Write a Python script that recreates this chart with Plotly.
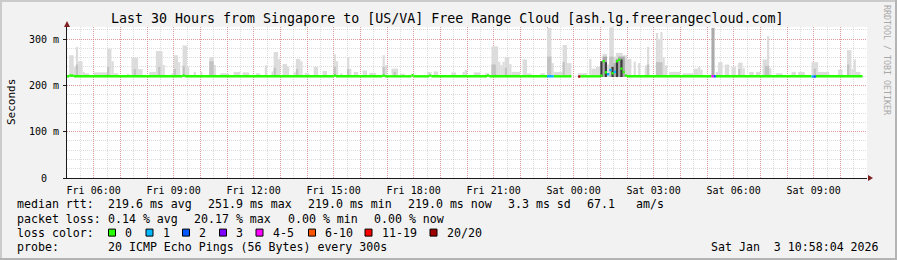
import numpy as np
import pandas as pd
import plotly.graph_objects as go

# ---------------- data ----------------
t_start = "2026-01-02 05:00"
step_minutes = 5
hours_span = 30

# median RTT (ms) as runs of 5-minute steps: length, value, loss count (None = no data)
med_len = [1, 2, 49, 1, 67, 1, 21, 1, 12, 1, 7, 1, 25, 1, 26, 3, 8, 3, 1, 9,
           1, 1, 1, 1, 1, 1, 1, 1, 1, 1, 1, 1,
           38, 1, 1, 43, 1, 1, 21]
med_val = [219.5, 221, 219.5, 221, 219.5, 221, 219.5, 221, 219.5, 221.5, 219.5, 221, 219.5, 221, 219.5,
           219.5, 219.5, None, 219, 219.5,
           221, 252, 228, 224, 233, 226, 229, 252, 255, 236, 229, 221,
           219.5, 219.5, 219.5, 219.5, 219, 219, 219.5]
med_loss = [0, 0, 0, 0, 0, 0, 0, 0, 0, 0, 0, 0, 0, 0, 0, 1, 0, None, 20, 0,
            0, 0, 0, 1, 1, 0, 1, 0, 0, 0, 0, 0,
            0, 4, 2, 0, 1, 2, 0]

# smoke (ping spread) layers: start step, number of steps, top value (ms)
smoke_light_start = [1, 3, 4, 5, 7, 8, 12, 18, 20, 21, 27, 29, 32, 37, 40, 43, 47, 48, 50, 52, 54, 57, 60, 64, 66, 69, 75, 79, 85,
                     89, 92, 93, 95, 97, 99, 102, 103, 105, 107, 111, 115, 120, 121, 123, 126, 127, 129, 133, 136, 142, 143, 146, 150, 155, 162, 165, 173, 178,
                     179, 183, 188, 191, 194, 195, 196, 197, 199, 200, 205, 207, 213, 216, 218, 219, 223, 225, 230, 235, 236, 238,
                     240, 241, 243, 244, 246, 247, 250,
                     252, 255, 257, 260, 261, 265, 266, 267, 268, 269, 271, 277, 282, 284, 285, 292, 293, 296, 299, 302, 304, 307, 310, 313, 315, 316, 319, 326, 329, 335, 338, 347, 351, 353, 354, 355]
smoke_light_len = [2, 1, 1, 2, 1, 2, 6, 2, 1, 2, 1, 3, 2, 3, 3, 1, 1, 2, 1, 2, 1, 1, 1, 2, 1, 4, 3, 3, 2,
                   1, 1, 2, 1, 2, 1, 1, 2, 1, 2, 2, 2, 1, 1, 1, 1, 1, 2, 2, 3, 1, 1, 3, 2, 1, 2, 2, 2, 1,
                   1, 3, 2, 3, 1, 1, 1, 2, 1, 4, 2, 2, 2, 2, 1, 4, 2, 2, 4, 1, 2, 2,
                   1, 2, 1, 2, 1, 3, 2,
                   2, 1, 1, 1, 1, 1, 1, 1, 1, 1, 5, 5, 2, 1, 1, 1, 2, 2, 2, 2, 1, 2, 2, 2, 1, 1, 3, 2, 3, 3, 5, 2, 2, 1, 1, 2]
smoke_light_top = [265, 240, 283, 252, 229, 226, 228, 279, 252, 226, 225, 260, 235, 229, 274, 244, 226, 265, 250, 286, 240, 229, 229, 261, 244, 226, 229, 228, 226,
                   243, 230, 272, 257, 246, 240, 228, 257, 252, 227, 240, 231, 267, 252, 226, 261, 236, 229, 232, 227, 265, 243, 236, 225, 225, 229, 230, 228, 229,
                   233, 228, 226, 284, 251, 244, 251, 261, 246, 229, 256, 226, 226, 324, 248, 229, 287, 248, 226, 257, 236, 240,
                   250, 268, 245, 325, 262, 270, 265,
                   257, 251, 248, 243, 283, 313, 300, 315, 260, 243, 229, 226, 236, 240, 234, 229, 250, 245, 240, 249, 237, 229, 229, 256, 306, 237, 226, 229, 229, 250, 229, 234, 276, 235, 256, 229]

smoke_mid_start = [4, 18, 30, 41, 48, 52, 64, 93, 103, 120, 126, 142, 147, 191, 197, 216, 223, 241, 244, 247, 250, 261, 265, 302, 314, 336, 351]
smoke_mid_len = [1, 1, 1, 1, 1, 1, 2, 1, 1, 1, 1, 1, 1, 2, 1, 2, 1, 2, 2, 3, 1, 1, 3, 1, 2, 1, 1]
smoke_mid_top = [245, 240, 235, 240, 235, 242, 252, 238, 235, 240, 235, 240, 229, 245, 238, 262, 250, 255, 262, 258, 255, 245, 250, 235, 242, 236, 245]

smoke_dark_start = [290, 241, 246, 248]
smoke_dark_len = [1.4, 2, 1, 3]
smoke_dark_top = [324, 262, 248, 262]

smoke_core_start = [240, 242, 245, 247, 249]
smoke_core_len = [1, 1, 1, 1, 1]
smoke_core_top = [252, 250, 240, 255, 256]

smoke_base = 218

loss_keys = [0, 1, 2, 3, 4, 6, 11, 20]
loss_labels = ["0", "1", "2", "3", "4-5", "6-10", "11-19", "20/20"]
loss_colors = ["#26ff00", "#00b8ff", "#0059ff", "#7e00ff", "#ff00ff", "#ff5500", "#ff0000", "#a00000"]

y_tick_vals = [0, 100, 200, 300]
y_tick_text = ["0\u00a0\u00a0", "100 m", "200 m", "300 m"]

title_text = "Last 30 Hours from Singapore to [US/VA] Free Range Cloud [ash.lg.freerangecloud.com]"

# ---------------- figure ----------------
W, H = 897, 260
L, R, T, B = 67, 30, 27, 82
PW, PH = W - L - R, H - T - B

t0 = pd.Timestamp(t_start)
step = pd.Timedelta(minutes=step_minutes)
t_end = t0 + pd.Timedelta(hours=hours_span)


def px(xp):
    return (xp - L) / PW


def py(yp):
    return (H - B - yp) / PH


fig = go.Figure()


def add_smoke(starts, lens, tops, color):
    xs = [t0 + step * (s + n / 2) for s, n in zip(starts, lens)]
    ws = [n * step_minutes * 60 * 1000 for n in lens]
    fig.add_trace(go.Bar(
        x=xs, y=[tp - smoke_base for tp in tops], base=smoke_base, width=ws,
        marker=dict(color=color, line=dict(width=0)), hoverinfo="skip"))


add_smoke(smoke_light_start, smoke_light_len, smoke_light_top, "#dcdcdc")
add_smoke(smoke_mid_start, smoke_mid_len, smoke_mid_top, "#c2c2c2")
add_smoke(smoke_dark_start, smoke_dark_len, smoke_dark_top, "#aaaaaa")
add_smoke(smoke_core_start, smoke_core_len, smoke_core_top, "#3c3c3c")

# expand median runs
vals, losses = [], []
for n, v, lo in zip(med_len, med_val, med_loss):
    vals += [v] * n
    losses += [lo] * n

for key, col in zip(loss_keys, loss_colors):
    xs, ys = [], []
    prev = None
    for i, (v, lo) in enumerate(zip(vals, losses)):
        ok = (v is not None) and (lo == key)
        if ok:
            if prev is None or prev != v:
                xs.append(None)
                ys.append(None)
                xs.append(t0 + step * i)
                ys.append(v)
            xs.append(t0 + step * (i + 1))
            ys.append(v)
            prev = v
        else:
            prev = None
    if any(x is not None for x in xs):
        fig.add_trace(go.Scatter(x=xs, y=ys, mode="lines", line=dict(color=col, width=2.4),
                                 connectgaps=False, hoverinfo="skip"))

hour_ticks = [t0 + pd.Timedelta(hours=h) for h in range(hours_span + 1)]
hour_text = [t.strftime("%a %H:%M") if (t.hour % 3 == 0) else "" for t in hour_ticks]

mgrid = "rgba(225,110,110,0.6)"
grid = "rgba(150,150,150,0.33)"

fig.update_layout(
    width=W, height=H, margin=dict(l=L, r=R, t=T, b=B, pad=0),
    paper_bgcolor="#f2f2f2", plot_bgcolor="#ffffff",
    showlegend=False, barmode="overlay",
    font=dict(family="DejaVu Sans Mono", size=10, color="#000000"),
    xaxis=dict(type="date", range=[t0, t_end], tickmode="array", tickvals=hour_ticks, ticktext=hour_text,
               showgrid=True, gridcolor=mgrid, griddash="1px,1px", gridwidth=1,
               minor=dict(tickmode="linear", tick0=t0, dtick=30 * 60 * 1000, showgrid=True,
                          gridcolor=grid, griddash="1px,1px", ticks=""),
               showline=True, linecolor="#1a1a1a", linewidth=1, ticks="", zeroline=False,
               tickfont=dict(size=10), ticklabelstandoff=3, fixedrange=True),
    yaxis=dict(range=[0, 325.9], tickmode="array", tickvals=y_tick_vals, ticktext=y_tick_text,
               showgrid=True, gridcolor=mgrid, griddash="1px,1px", gridwidth=1,
               minor=dict(tickmode="linear", tick0=0, dtick=20, showgrid=True,
                          gridcolor=grid, griddash="1px,1px", ticks=""),
               showline=True, linecolor="#1a1a1a", linewidth=1, ticks="outside", ticklen=3,
               tickcolor="#1a1a1a", zeroline=False, tickfont=dict(size=10), ticklabelstandoff=2,
               fixedrange=True),
)

shapes = []
# arrows
shapes.append(dict(type="path", xref="x domain", yref="y domain", xsizemode="pixel", ysizemode="pixel",
                   xanchor=1, yanchor=0, path="M 1,3 L 6,0 L 1,-3 Z", fillcolor="#7f1f1f",
                   line=dict(width=0), layer="above"))
shapes.append(dict(type="path", xref="x domain", yref="y domain", xsizemode="pixel", ysizemode="pixel",
                   xanchor=0, yanchor=1, path="M -3,0 L 0,6 L 3,0 Z", fillcolor="#7f1f1f",
                   line=dict(width=0), layer="above"))
# outer border
for (x0, y0, x1, y1, c) in [(0, 0, W, 2, "#cbcbcb"), (0, 0, 2, H, "#cbcbcb"),
                            (0, H - 2, W, H, "#b4b4b4"), (W - 2, 0, W, H, "#b4b4b4")]:
    shapes.append(dict(type="rect", xref="paper", yref="paper", x0=px(x0), x1=px(x1), y0=py(y0), y1=py(y1),
                       fillcolor=c, line=dict(width=0), layer="below"))

# loss colour boxes
box_x = [108.5, 146, 182.5, 219.5, 256, 308.5, 365, 430]
row_y = [204.3, 218.5, 232.6, 246.7]
for bx, col in zip(box_x, loss_colors):
    shapes.append(dict(type="rect", xref="paper", yref="paper", x0=px(bx), x1=px(bx + 7),
                       y0=py(row_y[2] - 3.5), y1=py(row_y[2] + 3.5), fillcolor=col,
                       line=dict(color="#000000", width=1)))
fig.update_layout(shapes=shapes)

ann = []


def text(xp, yp, s, size=11.6, anchor="left", color="#000000", angle=0):
    ann.append(dict(xref="paper", yref="paper", x=px(xp), y=py(yp), text=s, showarrow=False,
                    xanchor=anchor, yanchor="middle", textangle=angle, borderpad=0,
                    font=dict(family="DejaVu Sans Mono", size=size, color=color)))


text(447, 19, title_text, size=13.3, anchor="center")
text(11, 102, "Seconds", size=11, anchor="center", angle=-90)
text(887, 60, "RRDTOOL / TOBI OETIKER", size=8.3, anchor="center", color="#a8a8a8", angle=90)

row1 = [(16, "median rtt:"), (107.3, "219.6 ms avg"), (207.3, "251.9 ms max"), (306.7, "219.0 ms min"),
        (406.7, "219.0 ms now"), (506.7, "3.3 ms sd"), (586, "67.1"), (635, "am/s")]
row2 = [(16, "packet loss:"), (107.3, "0.14 % avg"), (193.3, "20.17 % max"), (286.7, "0.00 % min"),
        (372.7, "0.00 % now")]
for xp, s in row1:
    text(xp, row_y[0], s)
for xp, s in row2:
    text(xp, row_y[1], s)
text(16, row_y[2], "loss color:")
for bx, lab in zip(box_x, loss_labels):
    text(bx + 15.5, row_y[2], lab)
text(16, row_y[3], "probe:")
text(107.3, row_y[3], "20 ICMP Echo Pings (56 Bytes) every 300s")
text(880, row_y[3], "Sat Jan\u00a0\u00a03 10:58:04 2026", anchor="right")

fig.update_layout(annotations=ann)

fig.write_html("out.html")
